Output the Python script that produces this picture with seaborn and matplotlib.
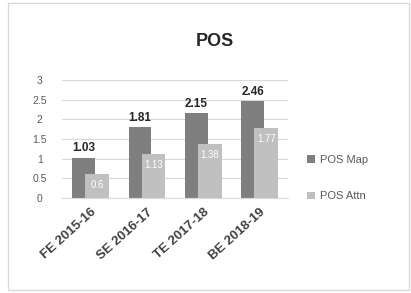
import numpy as np
import pandas as pd
import matplotlib
matplotlib.use('Agg')
import matplotlib.pyplot as plt
import seaborn as sns
from matplotlib.patches import Rectangle

years = ['FE 2015-16', 'SE 2016-17', 'TE 2017-18', 'BE 2018-19']
pos_map = [1.03, 1.81, 2.15, 2.46]
pos_attn = [0.6, 1.13, 1.38, 1.77]

map_color = '#7f7f7f'
attn_color = '#c0c0c0'

sns.set_style('white')
plt.rcParams['font.family'] = ['Liberation Sans', 'DejaVu Sans']

fig = plt.figure(figsize=(4.11, 2.93), dpi=100)
ax = fig.add_axes([0.151, 0.324, 0.549, 0.403])

# chart border like an Excel chart area
fig.patches.append(Rectangle((0.02, 0.01), 0.975, 0.98, transform=fig.transFigure,
                             fill=False, edgecolor='#d9d9d9', lw=1))

df = pd.DataFrame({'year': years, 'POS Map': pos_map, 'POS Attn': pos_attn})

# map bars (behind), shifted left
sns.barplot(data=df, x='year', y='POS Map', color=map_color, width=0.4,
            saturation=1, linewidth=0, ax=ax, label='POS Map')
n_map = len(ax.patches)
for p in ax.patches:
    p.set_x(p.get_x() - 0.12)

# attn bars (in front), shifted right
sns.barplot(data=df, x='year', y='POS Attn', color=attn_color, width=0.42,
            saturation=1, linewidth=0, ax=ax, label='POS Attn')
for p in ax.patches[n_map:]:
    p.set_x(p.get_x() + 0.12)
    p.set_zorder(3)

# value labels
for i, v in enumerate(pos_map):
    ax.text(i - 0.12, v + 0.08, f'{v:.2f}', ha='center', va='bottom',
            fontsize=8.5, fontweight='bold', color='#262626')
for i, v in enumerate(pos_attn):
    ax.text(i + 0.12, v - 0.28, f'{v:g}', ha='center', va='center',
            fontsize=7, color='white', zorder=4)

ax.set_ylim(0, 3)
ax.set_xlim(-0.5, 3.5)
ax.set_yticks(np.arange(0, 3.01, 0.5))
ax.set_yticklabels(['0', '0.5', '1', '1.5', '2', '2.5', '3'])
ax.yaxis.grid(True, color='#d9d9d9', lw=0.8)
ax.set_axisbelow(True)
ax.set_xlabel('')
ax.set_ylabel('')
for s in ['top', 'right', 'left']:
    ax.spines[s].set_visible(False)
ax.spines['bottom'].set_color('#d9d9d9')
ax.tick_params(axis='y', labelsize=7.5, labelcolor='#595959', length=0, pad=16)
ax.tick_params(axis='x', labelsize=9.5, labelcolor='#404040', length=0, pad=6)
plt.setp(ax.get_xticklabels(), rotation=42, ha='right', rotation_mode='anchor',
         fontweight='bold')
for t in ax.get_yticklabels():
    t.set_horizontalalignment('center')

fig.text(0.522, 0.86, 'POS', ha='center', va='center', fontsize=13,
         fontweight='bold', color='#262626')

leg = ax.legend(loc='center left', bbox_to_anchor=(1.04, 0.17), frameon=False,
                fontsize=8, handlelength=0.7, handleheight=0.7,
                handletextpad=0.5, labelspacing=2.4)
for t in leg.get_texts():
    t.set_color('#595959')

fig.savefig('out.png', dpi=100)
